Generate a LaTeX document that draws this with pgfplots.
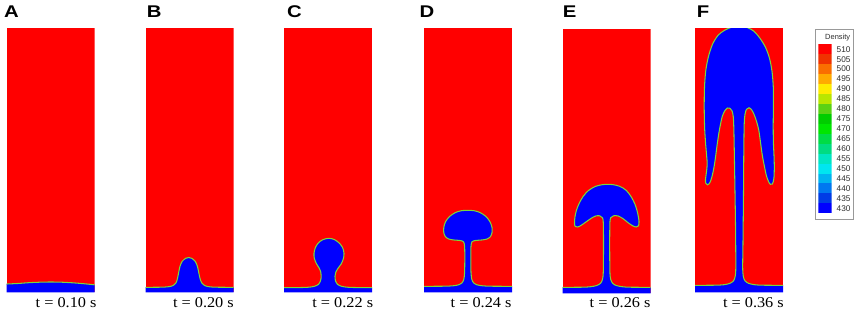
\documentclass[border=0pt]{standalone}
\usepackage{fontspec}
\setmainfont{Liberation Serif}
\newfontfamily\arial{Liberation Sans}
\usepackage{pgfplots}
\usepackage{pgfplotstable}
\pgfplotsset{compat=1.18}

\definecolor{ifc}{RGB}{120,215,60}
\definecolor{labgray}{RGB}{45,45,45}
\definecolor{c510}{RGB}{255,0,0}
\definecolor{c505}{RGB}{240,50,0}
\definecolor{c500}{RGB}{250,110,0}
\definecolor{c495}{RGB}{255,170,0}
\definecolor{c490}{RGB}{255,235,0}
\definecolor{c485}{RGB}{185,230,0}
\definecolor{c480}{RGB}{90,210,20}
\definecolor{c475}{RGB}{0,205,0}
\definecolor{c470}{RGB}{0,230,0}
\definecolor{c465}{RGB}{0,220,70}
\definecolor{c460}{RGB}{0,220,130}
\definecolor{c455}{RGB}{0,230,195}
\definecolor{c450}{RGB}{0,230,240}
\definecolor{c445}{RGB}{0,180,240}
\definecolor{c440}{RGB}{0,120,240}
\definecolor{c435}{RGB}{0,60,230}
\definecolor{c430}{RGB}{0,0,255}

\pgfplotstableread{
x y
0 8.3
11 8.8
22 9.6
33 10.1
44 10.3
55 10.1
66 9.5
77 8.6
88 7.5
}\dataA

\pgfplotstableread{
x y
0 5
15 5.1
22 5.5
27 6.6
30.3 9.5
31.8 14
33 20
34.3 26
36.5 31
40 34
43 34.8
46 34
49.5 31
51.7 26
53 20
54.3 14
56 9.5
59.3 6.6
64 5.5
71 5.1
88 5
}\dataB

\pgfplotstableread{
x y
0 4.7
18 4.8
26 5.2
31 6.2
34.5 8
36.5 11.5
37.2 16
36.8 20
35.3 24
32.5 28.5
30.3 34
30 39
31.3 44.5
34 49
38.5 52.5
44.7 54
50.5 52.7
55.5 49
58.7 44.5
60 39
59.5 34
57.3 28.5
54 24
51.8 20
51 16
51.5 11.5
53.5 8
57 6.2
62 5.2
70 4.8
88 4.7
}\dataC

\pgfplotstableread{
x y
0 6
20 6.1
29 6.5
34.5 7.5
38 9.5
39.8 13
40.6 20
40.8 35
40.6 46
39.5 50.5
36 51.8
30 52.3
25 53.2
21.5 55.5
19.8 59.5
19.8 65
21.5 70.5
25.5 75.8
31.5 79.8
37.5 81.6
43.7 82
50 81.6
56 79.8
62 75.8
66 70.5
68 65
68 59.5
66.3 55.5
62.8 53.2
57.5 52.3
51.5 51.8
48 50.5
47 46
46.8 35
47 20
47.8 13
49.6 9.5
53 7.5
58.5 6.5
67 6.1
88 6
}\dataD

\pgfplotstableread{
x y
0 6
20 6.1
28 6.6
34 7.8
37.8 10
39.8 14
40.6 22
40.8 50
40.6 70
39.8 75.5
37 77.5
33 77.3
28.5 75
23.5 71.5
18.5 68
15 66.3
12.6 66.8
11.8 70
12.2 76
13.7 83
16.5 90
20.5 97
26 103
33 107
40 108.7
44 109
50 108.7
57 107
63.5 103
68.5 96.5
72.5 88.5
75 80
76.3 72
75.8 67.5
73.5 66.3
70 67.5
65.5 70.5
60.5 74.5
55.5 77.3
50.8 77.5
48 75.5
47.2 70
47 50
47.2 22
48 14
50 10
53.5 7.8
59.5 6.6
67 6.1
88 6
}\dataE

\pgfplotstableread{
x y
0 7
20 7.1
29 7.6
35 9
38.5 11.5
40.2 16
40.8 25
40.6 60
40 100
39.3 140
38.8 165
38.2 176
37 181.5
35 184
32.5 184.3
29.8 181.5
27.3 176
25.5 168
24 160
22.2 148
20.5 135
18.8 124
16.8 115
14.8 109.5
12.5 107.5
10.8 109
10.5 113
11.4 120
12.2 128
11.6 137
10.5 150
9.6 165
9.2 185
9.5 205
10.8 222
13.5 236
17.5 248
23 257
29.5 262
35 264.5
40 266
48 266
53 264.5
59 261
65 254
70.5 245
74.5 234
77 221
78.3 205
78.4 185
78.2 167
78.4 150
79 137
79.3 125
78.9 114
77.4 108.3
75.3 108
73.4 111
71.3 117
69.2 127
67.3 137
65.5 150
63.8 162
61.5 171
59 178
56.6 182.5
54 184.5
51.5 183
50 178
49.2 168
48.8 140
48.5 100
48 50
47.7 25
48.3 16
50 11.5
53.5 9
59.5 7.6
68 7.1
88 7
}\dataF

\pgfplotsset{panel/.style={anchor=north west, scale only axis, width=88bp, height=264bp,
  xmin=0, xmax=88, ymin=0, ymax=264, hide axis, clip=true}}

\newcommand{\panelplots}[1]{%
  \addplot[fill=red, draw=none] coordinates {(0,0) (88,0) (88,264) (0,264)} -- cycle;
  \addplot[fill=blue, draw=none, smooth, tension=0.5] table {#1} \closedcycle;
  \addplot[draw=ifc, line width=1.05bp, smooth, tension=0.5] table {#1};
}

\tikzset{letter/.style={anchor=base west, font=\arial\bfseries\fontsize{17}{17}\selectfont, xscale=1.2, inner sep=0pt},
  tlab/.style={anchor=base east, font=\fontsize{15}{15}\selectfont, xscale=1.09, inner sep=0pt}}

\begin{document}
\begin{tikzpicture}
\useasboundingbox (0,0) rectangle (858bp,-315bp);

\begin{axis}[panel, at={(6.7bp,-28.3bp)}] \panelplots{\dataA} \end{axis}
\begin{axis}[panel, at={(145.7bp,-28.3bp)}] \panelplots{\dataB} \end{axis}
\begin{axis}[panel, at={(284bp,-28.3bp)}] \panelplots{\dataC} \end{axis}
\begin{axis}[panel, at={(424bp,-28.3bp)}] \panelplots{\dataD} \end{axis}
\begin{axis}[panel, at={(562.7bp,-29.3bp)}] \panelplots{\dataE} \end{axis}
\begin{axis}[panel, at={(695bp,-28.3bp)}] \panelplots{\dataF} \end{axis}

\node[letter] at (4bp,-17.5bp) {A};
\node[letter] at (146.7bp,-17.5bp) {B};
\node[letter] at (287bp,-17.5bp) {C};
\node[letter] at (419.5bp,-17.5bp) {D};
\node[letter] at (562.7bp,-17.5bp) {E};
\node[letter] at (696.7bp,-17.5bp) {F};

\node[tlab] at (96.7bp,-307bp) {t = 0.10 s};
\node[tlab] at (234bp,-307bp) {t = 0.20 s};
\node[tlab] at (373.3bp,-307bp) {t = 0.22 s};
\node[tlab] at (511.7bp,-307bp) {t = 0.24 s};
\node[tlab] at (650.7bp,-307bp) {t = 0.26 s};
\node[tlab] at (784bp,-307bp) {t = 0.36 s};

% colour legend frame
\begin{axis}[anchor=north west, at={(815bp,-29.5bp)}, scale only axis, width=38bp, height=190bp,
  xmin=0, xmax=1, ymin=0, ymax=1, xtick=\empty, ytick=\empty,
  axis line style={draw=black!40, line width=0.6bp}]
  \addplot[draw=none] coordinates {(0.5,0.5)};
  \node[anchor=base east, font=\arial\fontsize{7.5}{7.5}\selectfont, text=labgray, inner sep=0pt] at (axis cs:0.93,0.947) {Density};
\end{axis}

% colour bands
\begin{axis}[anchor=north west, at={(818.3bp,-44.3bp)}, scale only axis, width=13.4bp, height=169bp,
  xmin=0, xmax=1, ymin=427.5, ymax=512.5, axis line style={draw=none},
  xtick=\empty, ytick={430,435,...,510}, yticklabel pos=right, major tick length=0pt,
  ytick style={draw=none},
  yticklabel style={font=\arial\fontsize{8.3}{8.3}\selectfont, text=labgray, xshift=1.5bp,
    /pgf/number format/assume math mode=true}]
  \pgfplotsinvokeforeach{430,435,...,510}{%
    \addplot[xbar, bar width=5, bar shift=0pt, fill=c#1, draw=none] coordinates {(1,#1)};
  }
\end{axis}
\end{tikzpicture}
\end{document}
